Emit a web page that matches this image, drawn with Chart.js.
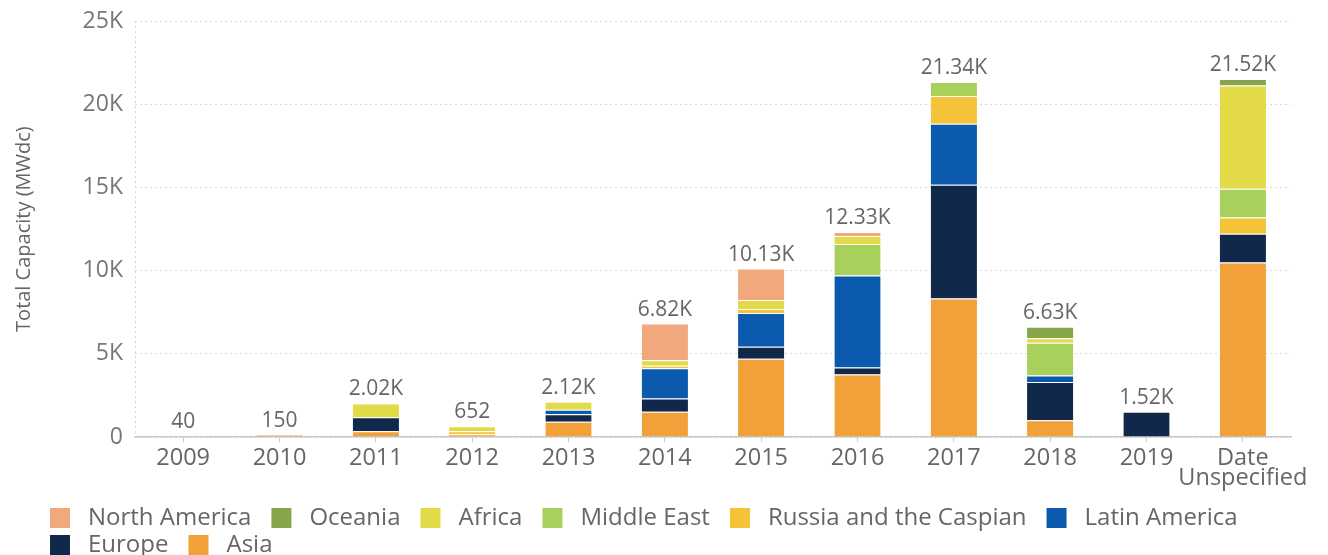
<!DOCTYPE html>
<html><head><meta charset="utf-8">
<script src="https://cdn.jsdelivr.net/npm/chart.js@4.4.1/dist/chart.umd.min.js"></script>
<style>html,body{margin:0;padding:0;background:#fff;} #wrap{width:1328px;height:555px;position:relative;}</style>
</head><body><div id="wrap"><canvas id="c"></canvas></div>
<script>
// ---- data (MWdc) ----
const categories = ['2009','2010','2011','2012','2013','2014','2015','2016','2017','2018','2019',['Date','Unspecified']];
const asia          = [40, 150, 350, 170, 920, 1520, 4700, 3760, 8320, 1000, null, 10490];
const europe        = [null, null, 830, null, 450, 800, 720, 420, 6850, 2310, 1520, 1730];
const latinAmerica  = [null, null, null, null, 270, 1820, 2030, 5530, 3670, 390, null, null];
const russiaCaspian = [null, null, null, 180, null, 150, 240, null, 1670, null, null, 980];
const middleEast    = [null, null, null, null, null, null, null, 1900, 830, 1970, null, 1730];
const africa        = [null, null, 840, 302, 480, 330, 540, 480, null, 270, null, 6200];
const oceania       = [null, null, null, null, null, null, null, null, null, 690, null, 390];
const northAmerica  = [null, null, null, null, null, 2200, 1900, 240, null, null, null, null];
const yTicks = [0, 5000, 10000, 15000, 20000, 25000];
const seriesNames = ['Asia','Europe','Latin America','Russia and the Caspian','Middle East','Africa','Oceania','North America'];
const seriesData = [asia, europe, latinAmerica, russiaCaspian, middleEast, africa, oceania, northAmerica];
const seriesColors = ['#F2A03A','#10294A','#0B5AAE','#F5C337','#A8D15C','#E3DA47','#87A54B','#F0A87C'];

const FONT = "'Open Sans', sans-serif";

function makeSwatch(color){
  const c = document.createElement('canvas');
  c.width = 43; c.height = 20;
  const g = c.getContext('2d');
  g.fillStyle = color; g.fillRect(17, 0, 20, 20);
  return c;
}
const swatches = seriesColors.map(makeSwatch);

function fmtTotal(v){
  return v >= 1000 ? (v/1000).toFixed(2) + 'K' : String(Math.round(v));
}

const LEGEND_W = 1265;
const extras = {
  id: 'extras',
  beforeLayout(chart){
    const lg = chart.legend;
    if (lg && !lg.__fixed){
      const of = lg.fit;
      lg.fit = function(){
        this.maxWidth = Math.min(this.maxWidth, LEGEND_W);
        of.call(this);
        this.height = 52;
      };
      const od = lg._draw;
      lg._draw = function(){
        const r = this.right;
        this.right = Math.min(r, this.left + LEGEND_W);
        od.call(this);
        this.right = r;
      };
      lg.__fixed = true;
    }
  },
  beforeDatasetsDraw(chart){
    const {ctx, chartArea: a} = chart;
    ctx.save();
    ctx.strokeStyle = '#d4d4d4'; ctx.lineWidth = 1; ctx.setLineDash([2,3]);
    ctx.beginPath(); ctx.moveTo(a.left + 0.5, a.top); ctx.lineTo(a.left + 0.5, a.bottom); ctx.stroke();
    ctx.restore();
  },
  afterDatasetsDraw(chart){
    const {ctx} = chart;
    const xs = chart.scales.x, ys = chart.scales.y;
    ctx.save();
    ctx.font = '21px ' + FONT;
    ctx.fillStyle = '#666';
    ctx.textAlign = 'center';
    ctx.textBaseline = 'alphabetic';
    categories.forEach((c, i) => {
      let total = 0;
      seriesData.forEach(s => { total += (s[i] || 0); });
      const x = xs.getPixelForValue(i);
      const y = ys.getPixelForValue(total);
      ctx.fillText(fmtTotal(total), x, y - 8);
    });
    ctx.restore();
  }
};

new Chart(document.getElementById('c'), {
  type: 'bar',
  data: {
    labels: categories,
    datasets: seriesNames.map((n, i) => ({
      label: n,
      data: seriesData[i],
      backgroundColor: seriesColors[i],
      borderColor: '#ffffff',
      borderWidth: {top: 1, bottom: 0, left: 0, right: 0},
      borderSkipped: false,
      categoryPercentage: 0.8,
      barPercentage: 0.6,
      stack: 's'
    }))
  },
  options: {
    responsive: true,
    maintainAspectRatio: false,
    animation: false,
    devicePixelRatio: 1,
    events: [],
    layout: {padding: {top: 7, left: 30, right: 37, bottom: 0}},
    plugins: {
      tooltip: {enabled: false},
      legend: {
        position: 'bottom',
        align: 'start',
        reverse: true,
        labels: {
          usePointStyle: true,
          pointStyleWidth: 43,
          boxHeight: 20,
          padding: 3,
          color: '#666',
          font: {family: FONT, size: 24},
          generateLabels(chart){
            const items = Chart.defaults.plugins.legend.labels.generateLabels(chart);
            items.forEach(it => { it.pointStyle = swatches[it.datasetIndex]; });
            return items;
          }
        }
      }
    },
    scales: {
      x: {
        stacked: true,
        offset: true,
        grid: {display: true, drawOnChartArea: false, drawTicks: true, tickLength: 5, offset: false, color: '#cccccc'},
        border: {display: true, color: '#c8c8c8', width: 1.5},
        ticks: {color: '#666', font: {family: FONT, size: 23.5, lineHeight: 0.85}, padding: 6, maxRotation: 0, autoSkip: false},
        afterFit(s){ s.height = 66; }
      },
      y: {
        stacked: true,
        min: 0, max: 25000,
        afterBuildTicks(s){ s.ticks = yTicks.map(v => ({value: v})); },
        grid: {display: true, drawTicks: false, color: '#d9d9d9', lineWidth: 1},
        border: {display: false, dash: [2, 3]},
        ticks: {color: '#777', font: {family: FONT, size: 23, lineHeight: 0.8}, padding: 12,
          callback(v){ return v === 0 ? '0' : (v/1000) + 'K'; }},
        title: {display: true, text: 'Total Capacity (MWdc)', color: '#666', font: {family: FONT, size: 20}, padding: {top: -18, bottom: 0}},
        afterFit(s){ s.width = 105; }
      }
    }
  },
  plugins: [extras]
});
</script>
</body></html>
